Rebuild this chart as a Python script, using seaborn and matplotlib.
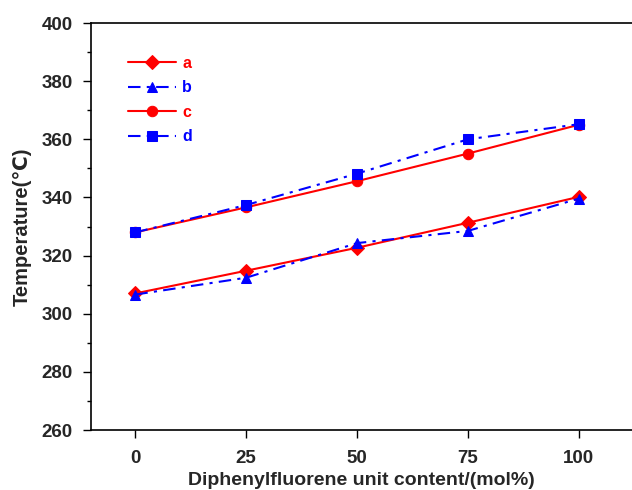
import matplotlib
matplotlib.use("Agg")
import matplotlib.pyplot as plt
import seaborn as sns
import pandas as pd
from matplotlib.ticker import MultipleLocator

content = [0, 25, 50, 75, 100]
series_a = [307.0, 314.8, 322.7, 331.3, 340.2]
series_b = [306.6, 312.4, 324.3, 328.5, 339.6]
series_c = [328.0, 336.6, 345.6, 355.1, 365.0]
series_d = [328.0, 337.4, 348.2, 360.0, 365.2]
labels = ["a", "b", "c", "d"]

sns.set_theme(style="white")
plt.rcParams['font.family'] = ['Liberation Sans', 'DejaVu Sans']

fig = plt.figure(figsize=(6.32, 4.9), dpi=100)
ax = fig.add_axes([0.144, 0.1224, 0.856, 0.8306])

styles = [
    (series_a, "a", "#ff0000", "D", "-", 7),
    (series_b, "b", "#0000ff", "^", (0, (6, 3, 1.5, 3)), 7),
    (series_c, "c", "#ff0000", "o", "-", 7.5),
    (series_d, "d", "#0000ff", "s", (0, (6, 3, 1.5, 3)), 6.5),
]
for vals, lab, col, mk, ls, ms in styles:
    df = pd.DataFrame({"x": content, "y": vals})
    sns.lineplot(data=df, x="x", y="y", ax=ax, color=col, marker=mk,
                 linestyle=ls, linewidth=1.5, markersize=ms,
                 markeredgecolor=col, label=lab)

ax.set_xlim(-10, 112)
ax.set_ylim(260, 400)
ax.set_xticks(content)
ax.yaxis.set_major_locator(MultipleLocator(20))
ax.yaxis.set_minor_locator(MultipleLocator(10))
ax.tick_params(axis="both", which="major", direction="out", length=6, width=1,
               color="black", labelsize=13.5, bottom=True, left=True)
ax.tick_params(axis="x", which="major", pad=8.5)
ax.tick_params(axis="y", which="major", pad=7)
ax.tick_params(axis="y", which="minor", direction="out", length=3, width=1,
               color="black", left=True)
for t in ax.get_xticklabels() + ax.get_yticklabels():
    t.set_fontweight("bold")
for s in ["left", "bottom", "top"]:
    ax.spines[s].set_color("black")
    ax.spines[s].set_linewidth(1.2)
ax.spines["right"].set_visible(False)

ax.set_xlabel("Diphenylfluorene unit content/(mol%)", fontsize=14,
              fontweight="bold", labelpad=3.5)
ax.set_ylabel("Temperature(℃)", fontsize=14.5, fontweight="bold", labelpad=7)

leg = ax.legend(loc="upper left", bbox_to_anchor=(0.042, 0.955), frameon=False,
                handlelength=3.0, handletextpad=0.4,
                labelspacing=0.6, prop={"weight": "bold", "size": 11.5})
for txt, (_, _, col, _, _, _) in zip(leg.get_texts(), styles):
    txt.set_color(col)

fig.savefig("out.png", dpi=100)
